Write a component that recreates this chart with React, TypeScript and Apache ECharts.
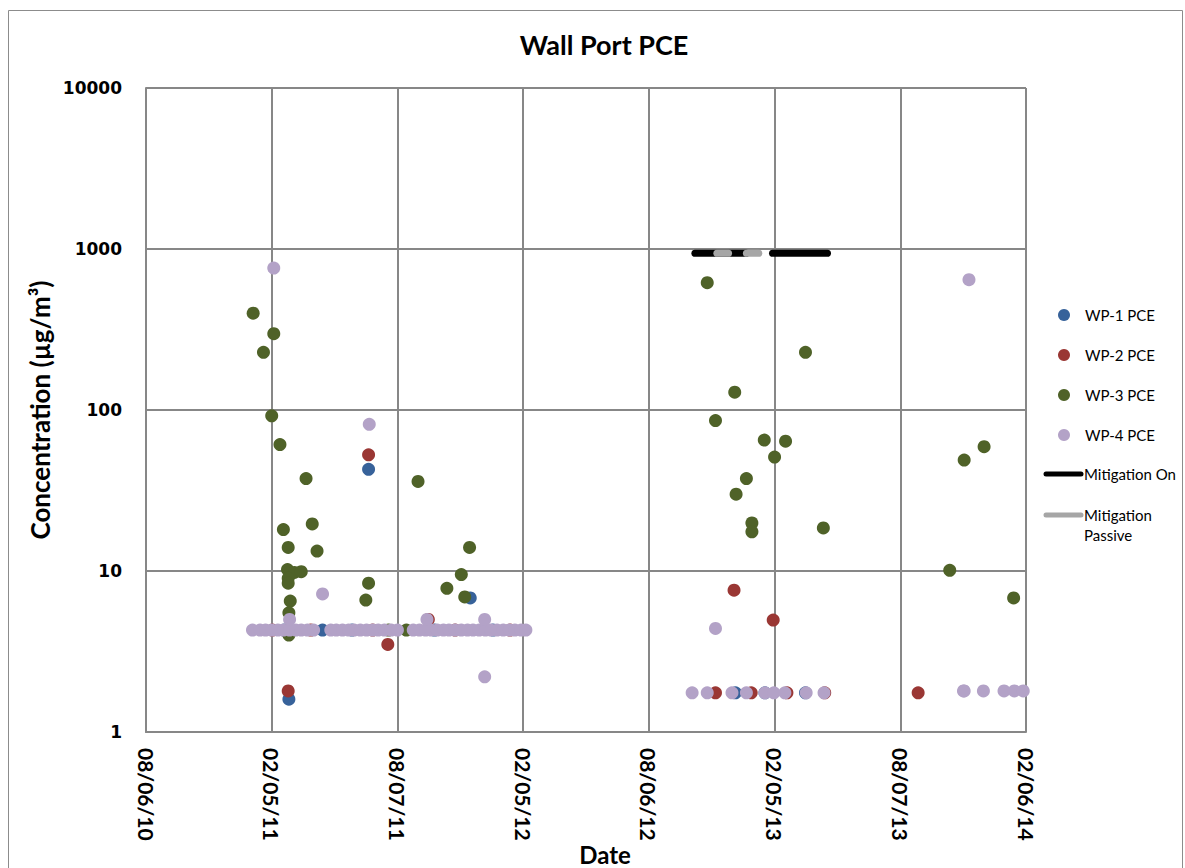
import React, { useEffect, useRef } from 'react';
import * as echarts from 'echarts';

// x values are days after 08/06/10; y values are PCE concentrations in µg/m³
const TICK_DAYS = 183;
const xTickLabels = ['08/06/10', '02/05/11', '08/07/11', '02/05/12', '08/06/12', '02/05/13', '08/07/13', '02/06/14'];

const seriesNames = ['WP-1 PCE', 'WP-2 PCE', 'WP-3 PCE', 'WP-4 PCE'];
const seriesColors = ['#37629A', '#9A3734', '#4F6228', '#B3A2C7'];

const wp1 = [
  [201, 4.3], [257, 4.3], [300, 4.3], [420, 4.3], [505, 4.3],
  [324, 42.8], [208, 1.6], [472, 6.8],
  [858, 1.75], [901, 1.75], [960, 1.75],
];

const wp2 = [
  [184, 4.3], [240, 4.3], [330, 4.3], [450, 4.3], [530, 4.3],
  [324, 52.7], [352, 3.5], [207, 1.8], [411, 5.0],
  [856, 7.6], [913, 4.96],
  [829, 1.75], [881, 1.75], [933, 1.75], [988, 1.75],
  [1124, 1.75],
];

const wp3 = [
  [156, 399], [171, 228], [186, 298], [183, 92], [195, 61], [233, 37.5],
  [200, 18.1], [242, 19.6], [207, 14], [249, 13.3],
  [206, 10.2], [216, 9.8], [226, 9.9], [207, 9.0], [207, 8.4],
  [210, 6.5], [208, 5.5], [208, 4.0],
  [324, 8.4], [320, 6.6], [396, 36], [471, 14], [459, 9.5], [438, 7.8], [464, 6.9],
  [353, 4.3], [379, 4.3],
  [817, 618], [960, 228], [857, 129], [829, 86], [900, 65], [931, 64], [915, 51],
  [874, 37.5], [859, 30], [882, 19.9], [882, 17.5], [986, 18.5],
  [1170, 10.1], [1191, 48.9], [1220, 59.2], [1263, 6.8],
];

const wp4Baseline2011 = [
  155, 166, 174, 183, 192, 200, 209, 218, 226, 235, 244,
  269, 277, 286, 295, 303, 312, 321, 330, 338, 347, 357, 366,
  389, 398, 407, 415, 424, 433, 441, 450, 459, 468, 476, 485, 494, 502, 511, 520, 529, 537, 546, 553,
];
const wp4Baseline2013 = [795, 817, 853, 874, 901, 914, 930, 961, 987];
const wp4Baseline2014 = [1190, 1191, 1219, 1249, 1264, 1277];
const wp4Others = [
  [186, 762], [325, 81.5], [257, 7.2], [209, 5.0], [409, 5.0], [493, 5.0], [493, 2.2],
  [829, 4.4], [1198, 645],
];

const mitigationLevel = 940;
const mitigationOn = [[799, 874], [912, 992]];
const mitigationPassive = [[831, 848], [874, 892]];

const wp4 = [
  ...wp4Baseline2011.map((d) => [d, 4.3]),
  ...wp4Baseline2013.map((d) => [d, 1.75]),
  ...wp4Baseline2014.map((d) => [d, 1.8]),
  ...wp4Others,
];

const scatterData = [wp1, wp2, wp3, wp4];

export default function App() {
  const ref = useRef<HTMLDivElement>(null);

  useEffect(() => {
    if (!ref.current) return;
    const chart = echarts.init(ref.current, null, { renderer: 'svg' });

    const calibri = 'Lato, "Open Sans", sans-serif';
    const gridColor = '#878787';

    const scatterSeries = seriesNames.map((name, i) => ({
      name,
      type: 'scatter',
      data: scatterData[i],
      symbol: 'circle',
      symbolSize: 13,
      itemStyle: { color: seriesColors[i], opacity: 1 },
      z: 2 + i,
    }));

    const lineSeries = [
      ...mitigationOn.map((seg) => ({
        name: 'Mitigation On',
        type: 'line',
        data: [[seg[0], mitigationLevel], [seg[1], mitigationLevel]],
        symbol: 'none',
        lineStyle: { color: '#000000', width: 7, cap: 'round' },
        z: 10,
      })),
      ...mitigationPassive.map((seg) => ({
        name: 'Mitigation Passive',
        type: 'line',
        data: [[seg[0], mitigationLevel], [seg[1], mitigationLevel]],
        symbol: 'none',
        lineStyle: { color: '#A6A6A6', width: 7, cap: 'round' },
        z: 11,
      })),
    ];

    const legendY = [315, 355, 395, 435];
    const legendGraphics: any[] = [];
    seriesNames.forEach((name, i) => {
      legendGraphics.push({
        type: 'circle',
        shape: { cx: 1064, cy: legendY[i], r: 6 },
        style: { fill: seriesColors[i] },
      });
      legendGraphics.push({
        type: 'text',
        x: 1085,
        y: legendY[i],
        style: { text: name, fill: '#000', font: `15px ${calibri}`, verticalAlign: 'middle', align: 'left' },
      });
    });
    legendGraphics.push(
      { type: 'line', shape: { x1: 1046, y1: 474, x2: 1081, y2: 474 }, style: { stroke: '#000', lineWidth: 5, lineCap: 'round' } },
      { type: 'text', x: 1084, y: 474, style: { text: 'Mitigation On', fill: '#000', font: `15px ${calibri}`, verticalAlign: 'middle', align: 'left' } },
      { type: 'line', shape: { x1: 1046, y1: 515, x2: 1081, y2: 515 }, style: { stroke: '#A6A6A6', lineWidth: 5, lineCap: 'round' } },
      { type: 'text', x: 1084, y: 515, style: { text: 'Mitigation', fill: '#000', font: `15px ${calibri}`, verticalAlign: 'middle', align: 'left' } },
      { type: 'text', x: 1084, y: 535, style: { text: 'Passive', fill: '#000', font: `15px ${calibri}`, verticalAlign: 'middle', align: 'left' } },
    );

    const option: any = {
      animation: false,
      backgroundColor: '#ffffff',
      title: {
        text: 'Wall Port PCE',
        left: 599,
        top: 26,
        textAlign: 'center',
        textStyle: { fontFamily: calibri, fontWeight: 'bold', fontSize: 27, color: '#000' },
      },
      grid: { left: 146, top: 88, width: 880, height: 644, containLabel: false, outerBoundsMode: 'none' },
      xAxis: {
        type: 'value',
        min: 0,
        max: TICK_DAYS * (xTickLabels.length - 1),
        interval: TICK_DAYS,
        name: 'Date',
        nameLocation: 'middle',
        nameGap: 110,
        nameMoveOverlap: false,
        nameTextStyle: {
          fontFamily: calibri,
          fontWeight: 'bold',
          fontSize: 24,
          color: '#000',
          verticalAlign: 'top',
          padding: [0, 0, 0, 38],
        },
        axisLine: { show: true, lineStyle: { color: gridColor, width: 2 } },
        axisTick: { show: false },
        splitLine: { show: true, lineStyle: { color: gridColor, width: 2 } },
        axisLabel: {
          rotate: -90,
          margin: 16,
          fontFamily: calibri,
          fontWeight: 'bold',
          fontSize: 21,
          color: '#000',
          showMinLabel: true,
          showMaxLabel: true,
          formatter: (v: number) => xTickLabels[Math.round(v / TICK_DAYS)] ?? '',
        },
      },
      yAxis: {
        type: 'log',
        logBase: 10,
        min: 1,
        max: 10000,
        name: 'Concentration (µg/m³)',
        nameLocation: 'middle',
        nameGap: 93,
        nameRotate: 90,
        nameMoveOverlap: false,
        nameTextStyle: { fontFamily: calibri, fontWeight: 'bold', fontSize: 26, color: '#000' },
        axisLine: { show: true, lineStyle: { color: gridColor, width: 2 } },
        axisTick: { show: false },
        splitLine: { show: true, lineStyle: { color: gridColor, width: 2 } },
        minorSplitLine: { show: false },
        axisLabel: {
          margin: 24,
          fontFamily: '"DejaVu Sans", Verdana, sans-serif',
          fontWeight: 'bold',
          fontSize: 17,
          color: '#000',
          formatter: (v: number) => String(Math.round(v)),
        },
      },
      series: [...scatterSeries, ...lineSeries],
      graphic: [
        {
          type: 'rect',
          shape: { x: 8.5, y: 10.5, width: 1174, height: 900 },
          style: { fill: 'none', stroke: '#8C8C8C', lineWidth: 1 },
          silent: true,
          z: -1,
        },
        ...legendGraphics,
      ],
    };

    chart.setOption(option);
    return () => chart.dispose();
  }, []);

  return (
    <div
      ref={ref}
      style={{ position: 'fixed', left: 0, top: 0, width: 1185, height: 868, background: '#fff' }}
    />
  );
}
